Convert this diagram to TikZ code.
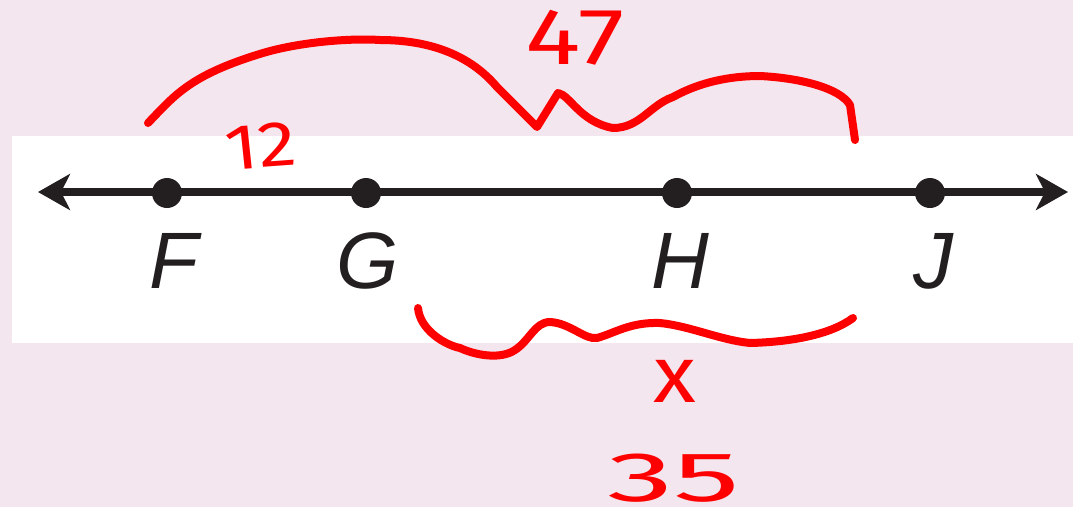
\documentclass[tikz,border=0pt]{standalone}
\usepackage{fontspec}
\setmainfont{Liberation Sans}
\newfontfamily\handfont{Fira Sans}
\usetikzlibrary{arrows.meta}
\definecolor{bgpink}{HTML}{F3E6EE}
\definecolor{ink}{HTML}{231F20}
\definecolor{pen}{HTML}{FF0000}
\begin{document}
\begin{tikzpicture}[x=1pt,y=-1pt,
  dotpt/.style={circle,fill=ink,inner sep=0pt,minimum size=30pt},
  ptlabel/.style={anchor=base,inner sep=0pt,text=ink,font=\fontsize{80}{80}\selectfont\itshape},
  penline/.style={draw=pen,line width=8pt,line cap=round,line join=round},
  pentext/.style={text=pen,inner sep=0pt,font=\handfont}]
\useasboundingbox (0,0) rectangle (1073,507);
\fill[bgpink] (0,0) rectangle (1073,507);
\fill[white] (12,136) rectangle (1073,343);
% line
\coordinate (L) at (38,192);
\coordinate (R) at (1068,192);
\draw[ink,line width=8pt,{Stealth[length=32pt,width=36pt,inset=9pt]}-{Stealth[length=32pt,width=36pt,inset=9pt]}] (L) -- (R);
\node[dotpt] (F) at (167,193) {};
\node[dotpt] (G) at (366,193) {};
\node[dotpt] (H) at (677,193) {};
\node[dotpt] (J) at (930,193) {};
\node[ptlabel] (lF) at (174,288) {F};
\node[ptlabel] (lG) at (368,288) {G};
\node[ptlabel] (lH) at (680,288) {H};
\node[ptlabel] (lJ) at (933,288) {J};
% top brace
\draw[penline] (148,123) .. controls (175,95) and (190,75) .. (263,53)
  .. controls (300,42) and (350,38) .. (380,40)
  .. controls (430,40) and (470,55) .. (497,87)
  -- (537,127) -- (558,93)
  .. controls (570,95) and (580,122) .. (613,128)
  .. controls (640,128) and (650,105) .. (673,97)
  .. controls (700,82) and (730,76) .. (760,76)
  .. controls (800,78) and (840,88) .. (850,105)
  -- (855,140);
% bottom brace
\draw[penline] (418,308) .. controls (420,330) and (445,345) .. (460,348)
  .. controls (475,355) and (500,360) .. (515,350)
  .. controls (530,340) and (535,322) .. (550,322)
  .. controls (570,323) and (585,340) .. (597,338)
  .. controls (615,333) and (630,322) .. (660,323)
  .. controls (690,326) and (720,340) .. (750,343)
  .. controls (790,342) and (830,335) .. (853,318);
% handwritten numbers
\node[pentext,font=\handfont\fontsize{80}{80}\selectfont,xscale=1.3] (n47) at (575,38) {47};
\node[pentext,font=\handfont\fontsize{64}{64}\selectfont,xscale=1.2,rotate=5] (n12) at (261,146) {12};
\node[pentext,font=\handfont\fontsize{80}{80}\selectfont,xscale=1.1] (nx) at (675,381) {x};
\node[pentext,anchor=base,font=\handfont\fontsize{70}{70}\selectfont,xscale=1.9] (n35) at (674,501) {35};
\end{tikzpicture}
\end{document}
